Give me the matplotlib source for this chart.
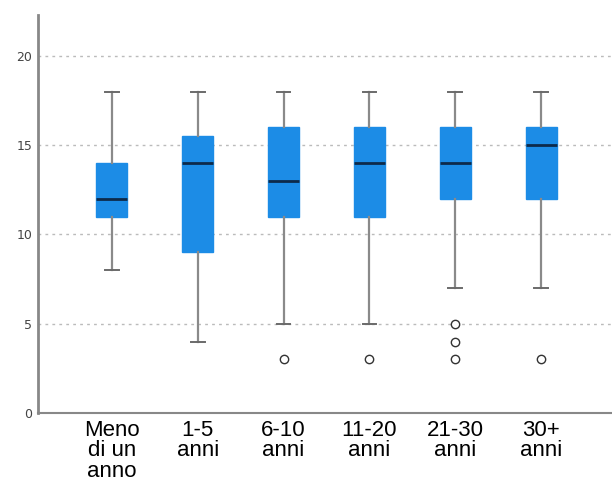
import matplotlib
matplotlib.use("Agg")
import matplotlib.pyplot as plt

# categories and box stats
labels = ["Meno\ndi un\nanno", "1-5\nanni", "6-10\nanni", "11-20\nanni", "21-30\nanni", "30+\nanni"]
whislo = [8, 4, 5, 5, 7, 7]
q1 = [11, 9, 11, 11, 12, 12]
med = [12, 14, 13, 14, 14, 15]
q3 = [14, 15.5, 16, 16, 16, 16]
whishi = [18, 18, 18, 18, 18, 18]
fliers = [[], [], [3], [3], [3, 4, 5], [3]]

stats = []
for i in range(len(labels)):
    stats.append({"whislo": whislo[i], "q1": q1[i], "med": med[i], "q3": q3[i],
                  "whishi": whishi[i], "fliers": fliers[i], "label": labels[i]})

fig = plt.figure(figsize=(6.12, 4.83), dpi=100)
ax = fig.add_axes([0.062, 0.145, 0.94, 0.824])

ax.bxp(stats, positions=range(len(labels)), widths=0.36, patch_artist=True,
       boxprops=dict(facecolor="#1c8ce6", edgecolor="#1c8ce6", linewidth=1),
       medianprops=dict(color="#0d2a4a", linewidth=2),
       whiskerprops=dict(color="#8a8a8a", linewidth=1.6),
       capprops=dict(color="#6a6a6a", linewidth=1.4),
       capwidths=0.16,
       flierprops=dict(marker="o", markersize=6, markerfacecolor="white",
                       markeredgecolor="#333333", markeredgewidth=1.0))

ax.set_ylim(0, 22.3)
ax.set_xlim(-0.86, 5.84)
ax.set_yticks([0, 5, 10, 15, 20])
ax.yaxis.grid(True, linestyle=(0, (2, 3)), color="#bbbbbb", linewidth=1)
ax.set_axisbelow(True)

ax.tick_params(axis="y", length=0, labelsize=9, labelcolor="#444444", pad=4)
ax.tick_params(axis="x", length=0, pad=5)
ax.set_xticks(range(len(labels)))
ax.set_xticklabels(labels, linespacing=0.97, fontsize=16, family="Liberation Sans")

for s in ["top", "right"]:
    ax.spines[s].set_visible(False)
ax.spines["left"].set_color("#888888")
ax.spines["left"].set_linewidth(2)
ax.spines["bottom"].set_color("#888888")
ax.spines["bottom"].set_linewidth(1.5)

fig.savefig("out.png", dpi=100)
